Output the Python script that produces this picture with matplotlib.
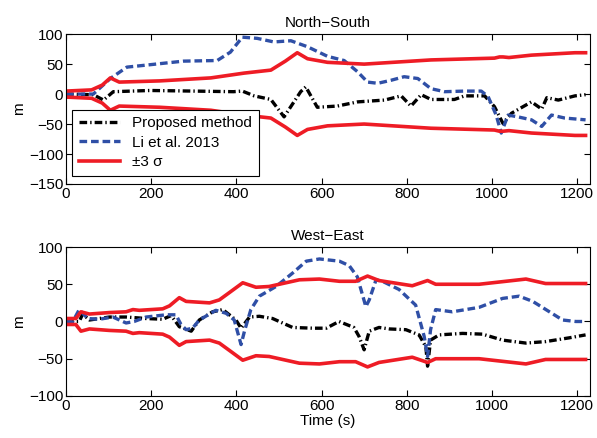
import numpy as np
import matplotlib
matplotlib.use('Agg')
from matplotlib import pyplot as plt

plt.rcParams['font.family'] = ['Liberation Sans', 'DejaVu Sans']
plt.rcParams['lines.scale_dashes'] = False

# North-South panel
ns_sig_t = [0, 60, 85, 104, 125, 220, 340, 418, 481, 515, 543, 567, 614, 700, 857, 1006, 1018, 1026, 1040, 1093, 1195, 1220]
ns_sig = [5, 7, 15, 27, 20, 22, 27, 35, 40, 55, 69, 59, 53, 50, 57, 60, 62, 62, 61, 65, 69, 69]

ns_li_t = [0, 64, 104, 143, 197, 276, 355, 386, 414, 449, 488, 528, 567, 614, 653, 685, 708, 732, 763,
           794, 826, 857, 889, 936, 975, 991, 1010, 1022, 1038, 1061, 1093, 1117, 1140, 1171, 1220]
ns_li = [0, 0, 26, 45, 49, 55, 56, 70, 95, 93, 87, 89, 79, 63, 56, 37, 20, 18, 23,
         29, 26, 9, 4, 5, 5, -4, -35, -65, -35, -38, -43, -54, -35, -40, -43]

ns_prop_t = [0, 64, 88, 111, 197, 299, 393, 414, 442, 481, 512, 551, 563, 590, 637, 685, 748, 787, 810,
             834, 857, 912, 936, 983, 1006, 1026, 1046, 1093, 1117, 1129, 1156, 1195, 1220]
ns_prop = [0, -1, -10, 4, 6, 5, 4, 5, -3, -9, -38, 4, 12, -22, -20, -13, -10, -3, -20,
           -1, -9, -9, -3, -3, -21, -49, -32, -13, -25, -6, -10, -3, -1]

# West-East panel
we_sig_t = [0, 23, 35, 55, 102, 141, 157, 172, 227, 243, 266, 282, 337, 360, 384, 415, 446, 477, 548,
            595, 642, 680, 708, 735, 813, 849, 868, 970, 1080, 1126, 1220]
we_sig = [4, 4, 13, 10, 12, 13, 16, 15, 17, 21, 32, 27, 25, 29, 39, 52, 46, 47, 56,
          57, 54, 54, 61, 55, 48, 55, 50, 50, 57, 51, 51]

we_li_t = [0, 16, 31, 51, 78, 110, 141, 160, 188, 235, 258, 270, 282, 297, 313, 352, 376, 395, 411, 419,
           434, 454, 493, 532, 564, 595, 642, 665, 684, 704, 712, 728, 743, 782, 821, 841, 849, 856,
           868, 907, 970, 1025, 1064, 1096, 1166, 1197, 1220]
we_li = [0, 0, 16, 4, 3, 6, -2, 0, 6, 9, 9, -4, -11, -9, 2, 15, 11, 2, -31, -13,
         16, 34, 47, 65, 81, 84, 81, 75, 60, 20, 29, 56, 54, 43, 22, -20, -47, -11,
         16, 13, 19, 31, 34, 27, 2, 0, 0]

we_prop_t = [0, 31, 39, 55, 102, 141, 188, 227, 247, 266, 294, 313, 344, 368, 399, 411, 431, 454, 485, 532,
             579, 611, 641, 676, 688, 700, 712, 735, 759, 798, 829, 845, 849, 856, 876, 931, 978, 1025,
             1080, 1126, 1181, 1220]
we_prop = [0, 0, 10, 2, 6, 6, 4, 3, 8, -7, -13, 2, 13, 16, 2, -9, 6, 7, 4, -8,
           -9, -9, 0, -8, -20, -38, -13, -8, -10, -11, -18, -34, -60, -25, -18, -16, -17, -25,
           -29, -27, -22, -18]

red = '#ee1c25'
blue = '#2f4fa6'
fs = 11

fig = plt.figure(figsize=(5.97, 4.38), dpi=100)
ax1 = fig.add_axes([0.1106, 0.580, 0.8774, 0.342])
ax2 = fig.add_axes([0.1106, 0.096, 0.8774, 0.340])


def draw(ax, pt, p, lt, l, st, s):
    s = np.array(s)
    ax.plot(pt, p, color='black', lw=2.4, linestyle=(0, (5.5, 2.2, 1.0, 2.2)), label='Proposed method')
    ax.plot(lt, l, color=blue, lw=2.4, linestyle=(0, (5.5, 2.8)), label='Li et al. 2013')
    ax.plot(st, s, color=red, lw=2.6, label='\u00b13 \u03c3')
    ax.plot(st, -s, color=red, lw=2.6)
    ax.set_xlim(0, 1230)
    ax.set_xticks([0, 200, 400, 600, 800, 1000, 1200])
    ax.tick_params(direction='in', top=True, right=True, labelsize=fs, length=4, pad=2)
    ax.set_ylabel('m', fontsize=fs, labelpad=2)
    for sp in ax.spines.values():
        sp.set_linewidth(0.8)


draw(ax1, ns_prop_t, ns_prop, ns_li_t, ns_li, ns_sig_t, ns_sig)
ax1.set_ylim(-150, 100)
ax1.set_yticks([-150, -100, -50, 0, 50, 100])
ax1.set_title('North\u2212South', fontsize=fs, pad=5)
leg = ax1.legend(loc='lower left', bbox_to_anchor=(0.011, 0.053), borderaxespad=0,
                 fontsize=fs, fancybox=False, edgecolor='black', framealpha=1,
                 handlelength=2.7, labelspacing=0.35, borderpad=0.45)
leg.get_frame().set_linewidth(0.8)

draw(ax2, we_prop_t, we_prop, we_li_t, we_li, we_sig_t, we_sig)
ax2.set_ylim(-100, 100)
ax2.set_yticks([-100, -50, 0, 50, 100])
ax2.set_title('West\u2212East', fontsize=fs, pad=5)
ax2.set_xlabel('Time (s)', fontsize=fs, labelpad=1)

fig.savefig('out.png', dpi=100)
